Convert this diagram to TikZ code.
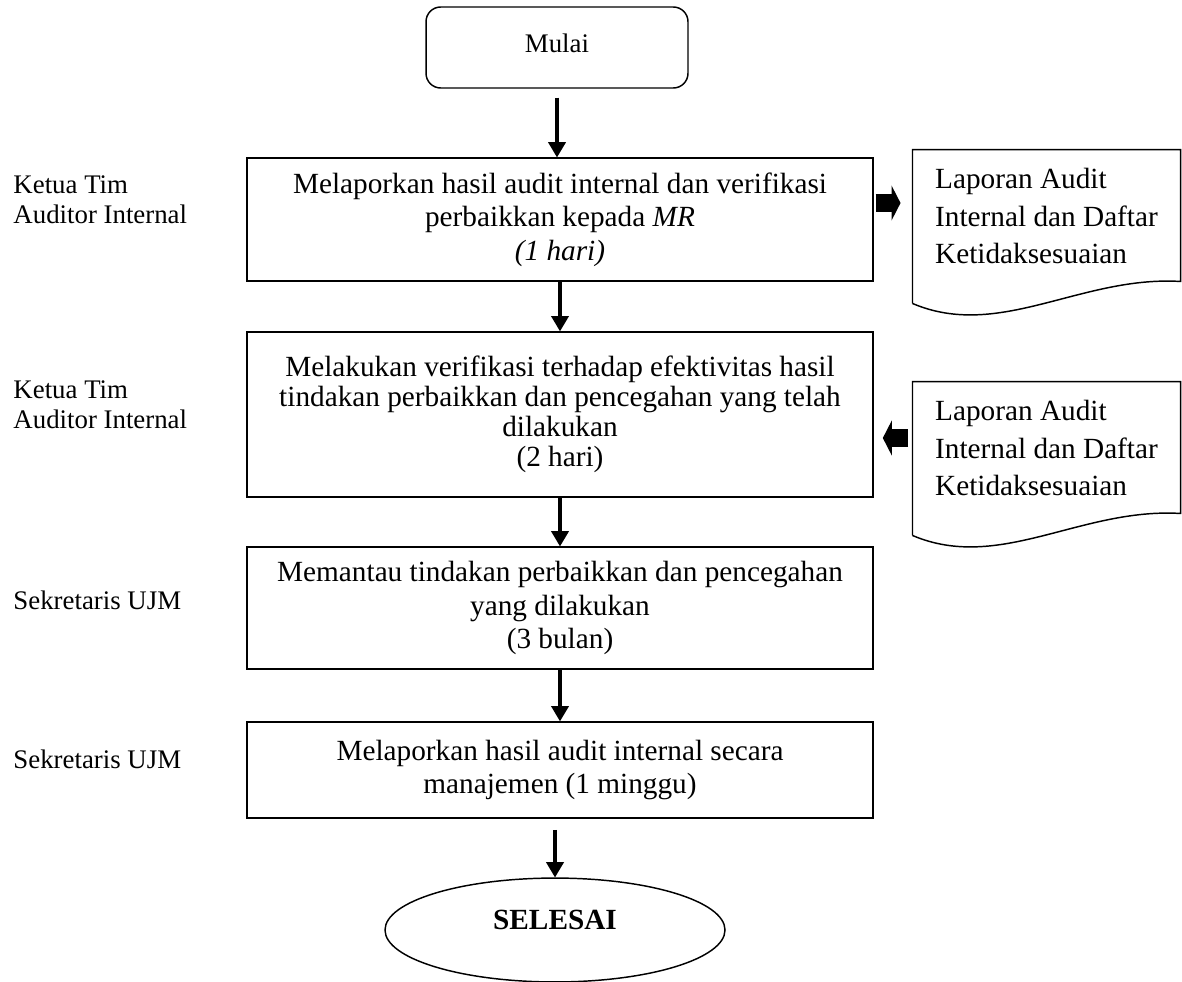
\documentclass[tikz,border=0pt]{standalone}
\usepackage{fontspec}
\setmainfont{Liberation Serif}
\usetikzlibrary{shapes.geometric,arrows.meta,calc}

\begin{document}
\begin{tikzpicture}[x=0.41pt, y=-0.41pt,
    process/.style={rectangle, draw, line width=0.6pt, minimum width=256.7pt, align=center, inner sep=0pt, font=\fontsize{12}{13.8}\selectfont},
    docnode/.style={rectangle, minimum width=109.5pt, minimum height=54.1pt, align=left, inner sep=0pt, font=\fontsize{12}{15.2}\selectfont},
    role/.style={anchor=west, align=left, inner sep=0pt, font=\fontsize{11}{12.3}\selectfont},
    flow/.style={line width=2pt, -{Triangle[length=6.2pt, width=7.4pt, line width=0pt]}},
    fatarrow/.style={line width=7pt, -{Triangle[length=3.7pt, width=14.4pt, line width=0pt]}}]
    \useasboundingbox (0,0) rectangle (1182,981);

    \node[rectangle, draw, rounded corners=6pt, line width=0.6pt, minimum width=107.4pt, minimum height=33.2pt, text depth=3.6pt, font=\fontsize{11}{13}\selectfont] (mulai) at (557,47.5) {Mulai};
    \node[process, minimum height=50.4pt] (lapor) at (560,219.5) {Melaporkan hasil audit internal dan verifikasi\\perbaikkan kepada \textit{MR}\\\textit{(1 hari)}};
    \node[process, minimum height=67.7pt, font=\fontsize{12}{12.3}\selectfont] (verif) at (560,414.5) {Melakukan verifikasi terhadap efektivitas hasil\\tindakan perbaikkan dan pencegahan yang telah\\dilakukan\\(2 hari)};
    \node[process, minimum height=50pt] (pantau) at (560,608) {Memantau tindakan perbaikkan dan pencegahan\\yang dilakukan\\(3 bulan)};
    \node[process, minimum height=39.4pt] (laporan) at (560,770) {Melaporkan hasil audit internal secara\\manajemen (1 minggu)};
    \node[ellipse, draw, line width=0.6pt, minimum width=139.4pt, minimum height=42.6pt, inner sep=0pt, text depth=8pt, font=\fontsize{12}{14}\selectfont\bfseries] (selesai) at (555,930) {SELESAI};

    \node[role] (ketua1) at (13,200) {Ketua Tim\\Auditor Internal};
    \node[role] (ketua2) at (13,405) {Ketua Tim\\Auditor Internal};
    \node[role] (sekre1) at (13,600) {Sekretaris UJM};
    \node[role] (sekre2) at (13,759) {Sekretaris UJM};

    \node[docnode] (doc1) at (1046.5,216) {Laporan Audit\\Internal dan Daftar\\Ketidaksesuaian};
    \node[docnode] (doc2) at (1046.5,448) {Laporan Audit\\Internal dan Daftar\\Ketidaksesuaian};
    \foreach \d in {doc1,doc2}
        \draw[line width=0.6pt] ($(\d.south west)+(0,21)$) -- (\d.north west) -- (\d.north east) -- ($(\d.south east)+(0,-1)$) .. controls ($(\d.south east)+(-100,-7)$) and ($(\d.south west)+(87,58)$) .. ($(\d.south west)+(0,21)$);

    \draw[flow, shorten <=3.7pt] (mulai.south) -- (mulai.south |- lapor.north);
    \draw[flow] (lapor) -- (verif);
    \draw[flow] (verif) -- (pantau);
    \draw[flow] (pantau) -- (laporan);
    \draw[flow, shorten <=4.5pt] (selesai.north |- laporan.south) -- (selesai.north);

    \draw[fatarrow, shorten <=0.8pt, shorten >=4.9pt] ($(lapor.east)+(0,-16.5)$) -- ($(doc1.west)+(0,-13)$);
    \draw[fatarrow, shorten <=1.8pt, shorten >=3.7pt] ($(doc2.west)+(0,-10)$) -- ($(verif.east)+(0,23.5)$);
\end{tikzpicture}
\end{document}
